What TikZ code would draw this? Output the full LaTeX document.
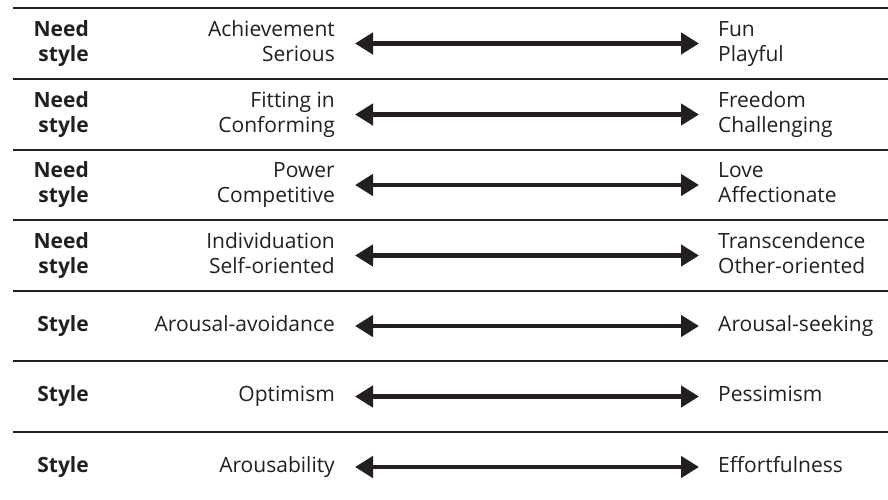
\documentclass[tikz,border=0pt]{standalone}
\usepackage{fontspec}
\setmainfont{Open Sans}
\usetikzlibrary{arrows.meta}
\definecolor{ink}{HTML}{231F20}

\begin{document}
\begin{tikzpicture}[x=1pt, y=-1pt, ink,
        txt/.style = {font=\fontsize{21}{25}\selectfont, inner sep=0pt, text=ink},
        kind/.style = {txt, font=\fontsize{21}{25}\selectfont\bfseries, align=right, anchor=east},
        lo/.style = {txt, align=right, anchor=east},
        hi/.style = {txt, align=left, anchor=west},
        rule/.style = {line width=2.5pt},
        dbl/.style = {line width=4.5pt, {Triangle[length=18pt,width=21pt]}-{Triangle[length=18pt,width=21pt]}, shorten <=20pt, shorten >=19pt}]
        \useasboundingbox (0,0) rectangle (888,499);
        % separating rules
        \draw[rule] (13,8) -- (888,8);
        \draw[rule] (13,79) -- (888,79);
        \draw[rule] (13,150) -- (888,150);
        \draw[rule] (13,220) -- (888,220);
        \draw[rule] (13,291) -- (888,291);
        \draw[rule] (13,361) -- (888,361);
        \draw[rule] (13,432) -- (888,432);
        % rows
        \node[kind] (k1) at (89,43.5) {\strut Need\\\strut style};
        \node[lo] (lo1) at (335,43.5) {\strut Achievement\\\strut Serious};
        \node[hi] (hi1) at (718,43.5) {\strut Fun\\\strut Playful};
        \draw[dbl] (lo1) -- (hi1);
        \node[kind] (k2) at (89,114.5) {\strut Need\\\strut style};
        \node[lo] (lo2) at (335,114.5) {\strut Fitting in\\\strut Conforming};
        \node[hi] (hi2) at (718,114.5) {\strut Freedom\\\strut Challenging};
        \draw[dbl] (lo2) -- (hi2);
        \node[kind] (k3) at (89,185) {\strut Need\\\strut style};
        \node[lo] (lo3) at (335,185) {\strut Power\\\strut Competitive};
        \node[hi] (hi3) at (718,185) {\strut Love\\\strut Affectionate};
        \draw[dbl] (lo3) -- (hi3);
        \node[kind] (k4) at (89,255.5) {\strut Need\\\strut style};
        \node[lo] (lo4) at (335,255.5) {\strut Individuation\\\strut Self-oriented};
        \node[hi] (hi4) at (718,255.5) {\strut Transcendence\\\strut Other-oriented};
        \draw[dbl] (lo4) -- (hi4);
        \node[kind] (k5) at (89,326) {\strut Style};
        \node[lo] (lo5) at (335,326) {\strut Arousal-avoidance};
        \node[hi] (hi5) at (718,326) {\strut Arousal-seeking};
        \draw[dbl] (lo5) -- (hi5);
        \node[kind] (k6) at (89,396.5) {\strut Style};
        \node[lo] (lo6) at (335,396.5) {\strut Optimism};
        \node[hi] (hi6) at (718,396.5) {\strut Pessimism};
        \draw[dbl] (lo6) -- (hi6);
        \node[kind] (k7) at (89,467) {\strut Style};
        \node[lo] (lo7) at (335,467) {\strut Arousability};
        \node[hi] (hi7) at (718,467) {\strut Effortfulness};
        \draw[dbl] (lo7) -- (hi7);
\end{tikzpicture}
\end{document}
